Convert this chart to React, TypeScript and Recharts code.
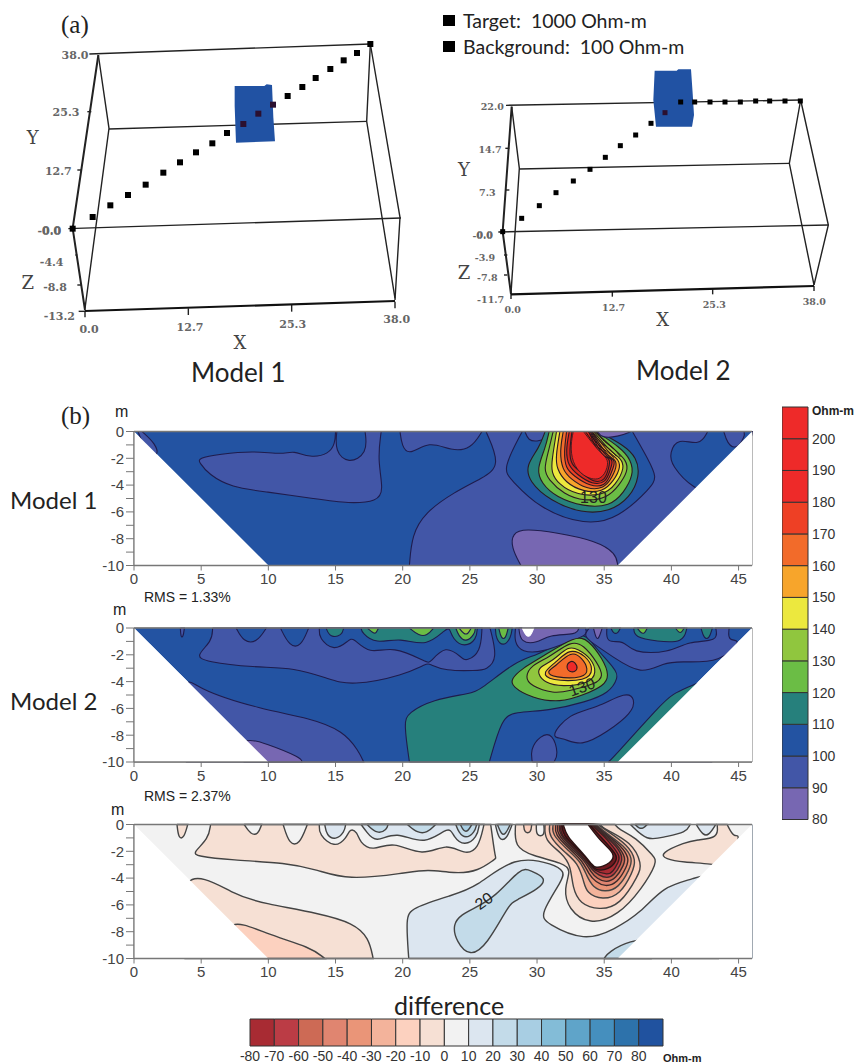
import React from "react";
import { ComposedChart, ReferenceArea, Scatter, ScatterChart, XAxis, YAxis } from "recharts";

type Pair = [number, number];

// colour steps
const BLUE = "#2353a2";
const PURPLE = "#4256a7";
const LAV = "#7767b2";
const TEAL = "#26807c";
const GREEN = "#6bbd45";
const LIME = "#90c63e";
const YELLOW = "#ece83e";
const AMBER = "#f7a52b";
const ORANGE = "#f26b2a";
const REDOR = "#ee4025";
const RED = "#ee2a29";

const ohmLevels = [80, 90, 100, 110, 120, 130, 140, 150, 160, 170, 180, 190, 200];
const ohmColors = [LAV, PURPLE, BLUE, TEAL, GREEN, LIME, YELLOW, AMBER, ORANGE, REDOR, RED, RED, RED];
const diffLevels = [-80, -70, -60, -50, -40, -30, -20, -10, 0, 10, 20, 30, 40, 50, 60, 70, 80];
const diffColors = ["#a82b33", "#bb3c45", "#cd6a55", "#e08570", "#ea9578", "#f3b39b", "#fcd1bf", "#f6e0d4", "#f2f2f2", "#dce6f0", "#c3dbe9", "#a8cee3", "#83bcd7", "#5fa4c9", "#458fbe", "#2d72ab", "#20529f"];

const distanceTicks = [0, 5, 10, 15, 20, 25, 30, 35, 40, 45];
const depthTicks = [0, -1, -2, -3, -4, -5, -6, -7, -8, -9, -10];

const section: Pair[] = [[0, 0], [46, 0], [36, -10], [10, -10]];
const blankLeft: Pair[] = [[0, 0], [10, -10], [0, -10]];
const blankRight: Pair[] = [[46, 0], [46, -10], [36, -10]];

// model 1 inversion
const m1Left: Pair[] = [[5, -2], [6.5, -1.7], [8.9, -1.5], [10.9, -1.67], [11.9, -1.5], [13.1, -1.87], [14.4, -1.6], [14.9, -0.87], [15, 0], [15.1, 0], [15.1, -1.37], [16, -2.2], [17.2, -1.5], [17.2, 0], [18.4, 0], [18.2, -2.1], [18.45, -4.2], [17.9, -5.1], [15.9, -5.3], [13.4, -5], [9.9, -4.5], [7.4, -4.1], [5.7, -3.2], [5, -2.4]];
const m1Corner: Pair[] = [[0.6, 0], [1.5, -0.9], [1.7, -1.7], [1, -1.6], [0.3, 0]];
const m1Top: Pair[] = [[19.8, 0], [20, -1], [20.6, -1.6], [22, -0.87], [23.6, -1.35], [25, -1.15], [25.9, 0]];
const m1Right: Pair[] = [[26.2, 0], [27, -2.36], [25.8, -3.48], [23.8, -4.6], [21.8, -6.1], [20.8, -7.8], [20.5, -10], [37, -10], [46, -1], [46, 0]];
const m1RightBlue: Pair[] = [[42.7, 0], [42, -0.9], [40.6, -0.65], [40, -1.6], [40.2, -2.6], [41.7, -4.1], [43.5, -4.2], [46, -1], [46, 0]];
const m1RightBlob: Pair[] = [[43.9, 0], [44.2, -0.8], [44.8, -1.2], [45.4, -0.4], [45.4, 0]];
const m1Deep: Pair[] = [[28.8, -10], [28.2, -8.7], [28.3, -7.7], [29.3, -7.35], [31.5, -7.6], [34.2, -8.2], [35.7, -9.1], [36, -10]];
const m1Ring: Pair[] = [[28.9, 0], [27.7, -2.6], [28.3, -3.7], [30.3, -5.6], [33.5, -6.75], [36, -6.25], [38.2, -4.35], [38.75, -3.35], [38.2, -2], [37.1, 0]];
const m1RingBlob: Pair[] = [[29.1, 0], [29.4, -0.6], [30, -0.7], [30.6, -0.5], [30.8, 0]];
const m1Teal: Pair[] = [[30.6, 0], [30.1, -1.26], [29.35, -2.5], [29.6, -3.75], [31.1, -5.1], [33.3, -5.95], [35.3, -5.85], [36.8, -4.85], [37.5, -3.35], [37.3, -2], [36.3, -1], [34.55, 0]];
const m1Green: Pair[] = [[30.9, 0], [30.6, -1.25], [30.1, -2.75], [30.45, -3.85], [31.55, -4.85], [33.45, -5.5], [35.3, -5.45], [36.4, -4.5], [37.05, -3.25], [36.9, -2.15], [36.05, -1.15], [34.4, 0]];
const m1Lime: Pair[] = [[31.2, 0], [30.85, -1.5], [30.6, -2.75], [30.95, -3.6], [32.05, -4.6], [33.55, -5.1], [35.15, -4.85], [36.05, -4], [36.65, -3], [36.55, -2.15], [35.65, -1.25], [34.3, 0]];
const m1Yellow: Pair[] = [[31.45, 0], [31.15, -2], [31.15, -3], [31.7, -3.9], [33.05, -4.65], [34.8, -4.65], [35.8, -3.9], [36.4, -2.75], [36.15, -2], [35.4, -1.4], [34.2, 0]];
const m1Amber: Pair[] = [[31.7, 0], [31.45, -1.75], [31.55, -2.75], [32.2, -3.75], [33.45, -4.4], [34.8, -4.4], [35.65, -3.65], [36.15, -2.65], [35.9, -2], [35.3, -1.5], [34.1, 0]];
const m1Orange: Pair[] = [[31.95, 0], [31.75, -1.5], [31.95, -2.75], [32.55, -3.5], [33.7, -4.2], [34.9, -4.15], [35.55, -3.4], [35.9, -2.5], [35.65, -2], [35.15, -1.65], [34.05, 0]];
const m1RedOrange: Pair[] = [[32.2, 0], [32.05, -1.5], [32.2, -2.65], [32.8, -3.3], [33.95, -4], [35, -3.95], [35.45, -3.2], [35.75, -2.4], [35.55, -2], [35.05, -1.75], [34, 0]];
const m1Red1: Pair[] = [[32.4, 0], [32.2, -1.4], [32.4, -2.5], [33.05, -3.2], [34.1, -3.85], [35.05, -3.7], [35.4, -2.9], [35.6, -2.25], [35.3, -1.9], [34.85, -1.75], [33.95, 0]];
const m1Red2: Pair[] = [[32.6, 0], [32.45, -1.4], [32.6, -2.4], [33.3, -3.05], [34.2, -3.7], [35, -3.55], [35.3, -2.75], [35.4, -2.2], [35.1, -1.85], [34.65, -1.7], [33.85, 0]];
const m1Core: Pair[] = [[32.7, 0], [32.55, -1], [32.7, -2.25], [33.45, -3.25], [34.65, -3.55], [35.2, -2.65], [35.15, -2], [34.55, -1.4], [33.45, 0]];
const m1TopLav: Pair[] = [[34.5, 0], [34.9, -0.4], [36, -0.35], [37, 0]];
const m1Ridges: Pair[][] = [
  [[33.6, 0], [34.3, -1.05], [35.1, -1.6], [35.5, -2]],
  [[33.8, 0], [34.5, -1], [35.25, -1.5], [35.7, -1.95]],
  [[34.1, 0], [34.7, -0.85], [35.5, -1.35], [35.9, -1.85]],
  [[34.4, 0], [35, -0.8], [35.8, -1.3], [36.2, -1.9]],
];

// model 2 inversion
const m2Tip: Pair[] = [[3.45, 0], [3.5, -0.6], [3.65, -0.6], [3.75, 0]];
const m2Upper: Pair[] = [[5.85, 0], [5.7, -1], [4.85, -2], [5.7, -2.5], [8.9, -2.9], [11.9, -3.05], [14.4, -3.75], [16.4, -4.15], [19.85, -3.5], [21.6, -2.75], [22.1, -2.75], [23.3, -3.15], [25.3, -3.15], [26.2, -3], [26.9, -2.1], [26.5, 0]];
const m2Hole1: Pair[] = [[7.6, 0], [8.2, -0.9], [9.1, -0.95], [9.85, 0]];
const m2Hole2: Pair[] = [[10.9, 0], [11.6, -1.2], [12.4, -1.2], [13, 0]];
const m2Hole3: Pair[] = [[13.8, 0], [13.9, -0.77], [14.9, -1.55], [15.9, -1], [16.4, -0.85], [17.6, -1.8], [19.35, -1.5], [21.6, -2.45], [22.1, -2.45], [23.2, -1.5], [24.3, -2.15], [24.8, -2.35], [25.7, -1.65], [25.9, 0]];
const m2Teal1: Pair[] = [[14.3, 0], [14.65, -0.6], [15.4, -0.5], [15.6, 0]];
const m2Teal2: Pair[] = [[16.9, 0], [17.1, -0.4], [18.1, -1.05], [19.85, -0.8], [21.7, -1.2], [23.1, -0.15], [23.5, -0.15], [23.8, -0.8], [24.6, -1.3], [25.4, -0.8], [25.55, 0]];
const m2Green1: Pair[] = [[17.35, 0], [17.8, -0.35], [18, -0.35], [18.2, 0]];
const m2Green2: Pair[] = [[20.5, 0], [21.2, -0.5], [21.8, -0.5], [22.3, 0]];
const m2Green3: Pair[] = [[23.95, 0], [24.2, -0.55], [24.7, -0.95], [25.3, -0.45], [25.4, 0]];
const m2Lime: Pair[] = [[24.2, 0], [24.55, -0.4], [24.85, -0.4], [25.1, 0]];
const m2TealBig: Pair[] = [[20.5, -10], [20.2, -7.35], [20.6, -6.35], [22.35, -5.4], [24.8, -4.9], [26, -4.4], [28.3, -2.65], [30, -2], [32, -1], [33.5, -0.55], [34.35, -1.5], [35.7, -3], [35.9, -3.75], [35.2, -4.8], [33.5, -5.5], [31, -6.1], [28.5, -6.35], [27.4, -7.1], [26.45, -10]];
const m2Sliver: Pair[] = [[35.3, -10], [35.95, -9.35], [38.9, -6.1], [40.1, -5], [41.55, -4.4], [43, -4.4], [43, -10]];
const m2Lobe1: Pair[] = [[3.9, -4.25], [5, -4.65], [9.4, -6], [12.9, -6.75], [15.4, -7.75], [16.6, -9.1], [17.1, -10], [3.9, -10]];
const m2Lobe2: Pair[] = [[8.2, -8.4], [9.9, -8.7], [12.15, -9.6], [12.5, -10], [8.2, -10]];
const m2BlobA: Pair[] = [[31.25, -8], [32.5, -6.5], [34.5, -5.9], [36.45, -4.95], [37.15, -5.4], [36.85, -6.4], [35.2, -7.7], [33.35, -8.65], [32, -8.2]];
const m2BlobB: Pair[] = [[29.65, -10], [29.6, -9.1], [30.25, -8.15], [31.1, -8.05], [31.5, -9.35], [31.25, -10]];
const m2Teal3: Pair[] = [[26.9, 0], [27, -0.77], [27.5, -1.25], [28, -0.7], [28.15, 0]];
const m2Green4: Pair[] = [[27.15, 0], [27.35, -0.7], [27.65, -0.7], [27.85, 0]];
const m2Crest: Pair[] = [[28.4, 0], [28.4, -1], [29, -1.7], [30.5, -1.7], [32.5, -0.95], [33.6, -0.5], [33.6, 0]];
const m2CrestLav: Pair[] = [[28.65, 0], [28.9, -0.95], [30, -1.05], [31, -0.55], [32.75, -0.45], [33.1, 0]];
const m2CrestWhite: Pair[] = [[28.9, 0], [29.2, -0.55], [29.5, -0.55], [29.75, 0]];
const m2Shoulder: Pair[] = [[33.9, 0], [33.6, -0.55], [34.2, -1.15], [35.7, -2.15], [37.7, -3.25], [39.4, -2.65], [40.9, -2.5], [43.5, -2.4], [45, -1], [44.3, -0.9], [44.3, 0], [43.3, 0], [43.2, -0.9], [41.3, -1.05], [39.7, -1.75], [37.3, -1.75], [36.45, -1], [35.3, -1], [35.2, 0]];
const m2ShoulderLav: Pair[] = [[34.2, 0], [34.4, -0.7], [34.6, -0.7], [34.85, 0]];
const m2TopTeal1: Pair[] = [[35.5, 0], [35.7, -0.35], [36, -0.35], [36.2, 0]];
const m2TopTeal2: Pair[] = [[37.2, 0], [37.45, -0.65], [38.95, -0.95], [40.7, -0.95], [41.15, 0]];
const m2TopTeal3: Pair[] = [[42.2, 0], [42.45, -0.7], [42.8, -0.7], [43.05, 0]];
const m2TopGreen1: Pair[] = [[37.45, 0], [37.75, -0.35], [38, -0.35], [38.2, 0]];
const m2TopGreen2: Pair[] = [[40.3, 0], [40.55, -0.3], [40.75, -0.3], [40.95, 0]];
const m2PlumeGreen: Pair[] = [[28.2, -3.8], [28.35, -4.4], [29.7, -5.15], [31.7, -5.45], [33.45, -4.95], [34.8, -4.3], [35.25, -3.5], [34.8, -2.3], [33.8, -1.05], [32.7, -0.8], [30.5, -2.1], [29, -3]];
const m2PlumeLime: Pair[] = [[29.25, -3.65], [29.7, -4.3], [31.2, -4.8], [32.45, -4.65], [34.2, -4.15], [34.8, -3.55], [34.4, -2.55], [33.45, -1.4], [32.45, -1.15], [30.95, -2.15], [29.7, -2.8]];
const m2PlumeYellow: Pair[] = [[30.15, -3.4], [30.7, -4.05], [31.95, -4.3], [33.7, -4.05], [34.3, -3.3], [33.95, -2.3], [33.05, -1.65], [32.3, -1.5], [31.2, -2.4], [30.3, -2.9]];
const m2PlumeAmber: Pair[] = [[30.6, -3.3], [31.2, -3.85], [33.45, -3.85], [34.05, -3.05], [33.55, -2.15], [32.45, -1.7], [31.45, -2.55]];
const m2PlumeOrange: Pair[] = [[30.85, -3.25], [31.45, -3.65], [33.3, -3.65], [33.7, -3.05], [33.3, -2.3], [32.5, -1.9], [31.45, -2.8]];
const m2PlumeRed: Pair[] = [[32.2, -2.9], [32.55, -3.3], [33, -3.05], [32.8, -2.6], [32.5, -2.5]];

// difference section
const dUpper: Pair[] = [[5.7, 0], [5.45, -1.05], [4.6, -2], [5, -2.35], [7.45, -2.65], [11.15, -2.9], [13.65, -3.4], [16.1, -4], [19.85, -3.65], [21.85, -3.4], [23.8, -3.6], [25.55, -3.4], [26.8, -2.55], [26.85, -2.3], [26.55, 0]];
const dTip: Pair[] = [[3.2, 0], [3.35, -0.9], [3.7, -0.9], [4, 0]];
const dGap1: Pair[] = [[8.2, 0], [8.7, -0.65], [9.2, -0.65], [9.5, 0]];
const dGap2: Pair[] = [[11.1, 0], [11.6, -1.3], [12.3, -1.3], [12.9, 0]];
const dGap3: Pair[] = [[13.8, 0], [13.9, -0.75], [14.9, -1.55], [15.75, -1], [16.1, -0.4], [16.6, -0.65], [16.9, -1.3], [17.85, -1.85], [19.35, -1.4], [21.45, -2.2], [23.2, -1.55], [24.55, -2.1], [25.55, -1.65], [26.05, 0]];
const dPale1: Pair[] = [[14.2, 0], [14.4, -0.75], [15, -1.05], [15.6, -0.55], [15.75, 0]];
const dPale2: Pair[] = [[16.9, 0], [17.35, -0.55], [18.1, -1.2], [19.6, -0.65], [21.6, -1.35], [23.3, -0.3], [23.8, -0.9], [24.6, -1.45], [25.45, -0.9], [25.7, 0]];
const dSky1: Pair[] = [[17.35, 0], [18.1, -0.6], [18.75, -0.35], [18.9, 0]];
const dSky2: Pair[] = [[20.35, 0], [21.1, -0.55], [21.8, -0.55], [22.45, 0]];
const dSky3: Pair[] = [[23.95, 0], [24.2, -0.55], [24.7, -0.95], [25.3, -0.55], [25.5, 0]];
const dSky4: Pair[] = [[24.3, 0], [24.55, -0.45], [24.85, -0.45], [25.15, 0]];
const dLower: Pair[] = [[3.8, -3.9], [7.45, -5.25], [9.9, -5.9], [13.65, -6.65], [16.1, -7.4], [17.35, -8.5], [17.8, -10], [3.8, -10]];
const dLower2: Pair[] = [[7.2, -7.35], [9.9, -8.2], [12.9, -9.15], [14.2, -10], [7.2, -10]];
const dBlue: Pair[] = [[20.45, -10], [20.35, -7.25], [20.95, -6.25], [23.55, -5.3], [25.55, -4.55], [28.3, -2.65], [31, -3], [31.85, -3.55], [31.75, -4.3], [30.5, -6.5], [31, -7.4], [33.5, -8.45], [35.7, -7.75], [37.7, -6.5], [39.45, -4.8], [41.55, -4.2], [43.5, -4.2], [43.5, -10]];
const dBlue20: Pair[] = [[23.85, -7.5], [24.1, -8.7], [25.05, -9.6], [26.3, -8.75], [27.8, -6.25], [28.5, -5.65], [30, -4.8], [30.5, -4.05], [29.5, -3.5], [28.65, -3.5], [26.9, -5.3], [25.3, -6.25], [24.45, -6.75]];
const dCorner: Pair[] = [[35, -10], [35.45, -9.5], [36.95, -8.75], [38.5, -8.75], [38.5, -10]];
const dRightLobe: Pair[] = [[39.45, -2.1], [39.7, -2.55], [41, -2.8], [42.9, -2.9], [44.3, -2.9], [45, -0.9], [44.65, -0.9], [44.15, 0], [43.4, 0], [43.3, -0.9], [41.9, -1.15], [40.95, -1.4]];
const dTopA: Pair[] = [[36.95, 0], [38.2, -1.05], [39.45, -0.9], [40.95, -0.55], [41.4, 0]];
const dTopB: Pair[] = [[37.3, 0], [37.6, -0.25], [37.9, -0.25], [38.2, 0]];
const dTopC: Pair[] = [[41.85, 0], [42.35, -0.7], [42.8, -0.7], [43.3, 0]];
const dTopD: Pair[] = [[26.9, 0], [27.2, -1], [27.7, -1], [28.15, 0]];
const dTopE: Pair[] = [[27.05, 0], [27.35, -0.65], [27.65, -0.65], [28, 0]];
const dHalo: Pair[] = [[28.4, 0], [28.5, -1.55], [29.75, -2.3], [31.75, -2.9], [32.4, -3.5], [32.1, -4.8], [32.5, -6.25], [34, -7.25], [36, -6.6], [37.7, -4.8], [38.75, -3], [38.55, -2.3], [37.35, -1.05], [36.2, -0.4], [35.8, 0]];
const dBox1: Pair[] = [[29, 0], [29.1, -0.55], [29.5, -0.55], [29.6, 0]];
const dBox2: Pair[] = [[29.95, 0], [30, -0.75], [30.5, -0.75], [30.5, 0]];
const dRingB: Pair[] = [[30.6, 0], [30.7, -1.15], [31.8, -2.15], [32.45, -3.15], [32.7, -4.65], [33.3, -5.8], [34.65, -6.25], [36.15, -5.8], [37.4, -3.9], [37.65, -2.9], [36.9, -1.4], [35.15, -0.4], [34.7, 0]];
const dRingC: Pair[] = [[30.95, 0], [31, -0.9], [32.05, -2.05], [32.95, -2.9], [33.45, -4.15], [33.8, -5.05], [34.9, -5.5], [36.15, -5.05], [37, -3.65], [37.25, -2.65], [36.65, -1.55], [35.3, -0.55], [34.55, 0]];
const dRingD: Pair[] = [[31.2, 0], [31.25, -0.8], [32.3, -1.9], [33.2, -2.8], [33.7, -3.8], [34.2, -4.6], [35.05, -4.95], [36.05, -4.6], [36.8, -3.4], [37, -2.55], [36.4, -1.6], [35.15, -0.65], [34.4, 0]];
const dRingE: Pair[] = [[31.4, 0], [31.45, -0.8], [32.45, -1.85], [33.35, -2.75], [33.85, -3.65], [34.4, -4.25], [35.1, -4.55], [35.95, -4.25], [36.6, -3.2], [36.75, -2.5], [36.2, -1.6], [35.1, -0.7], [34.3, 0]];
const dRingF: Pair[] = [[31.55, 0], [31.6, -0.75], [32.6, -1.85], [33.5, -2.7], [34, -3.5], [34.5, -4], [35.15, -4.25], [35.85, -3.95], [36.4, -3.05], [36.5, -2.45], [36, -1.6], [35.05, -0.75], [34.2, 0]];
const dRingG: Pair[] = [[31.7, 0], [31.75, -0.75], [32.75, -1.85], [33.65, -2.75], [34.1, -3.35], [34.6, -3.75], [35.2, -3.95], [35.75, -3.7], [36.2, -2.95], [36.3, -2.4], [35.85, -1.6], [35, -0.8], [34.1, 0]];
const dRingH: Pair[] = [[31.8, 0], [31.85, -0.8], [32.9, -1.85], [33.8, -2.85], [34.3, -3.4], [35.2, -3.7], [35.65, -3.45], [36, -2.85], [36.1, -2.35], [35.6, -1.6], [34.95, -0.85], [34, 0]];
const dRingI: Pair[] = [[31.85, 0], [32.05, -0.85], [33.05, -1.85], [33.95, -2.85], [34.35, -3.35], [35.3, -3.3], [35.85, -2.7], [35.85, -2.25], [35.3, -1.55], [34.85, -1.05], [33.9, 0]];
const dHole: Pair[] = [[31.95, 0], [32.3, -0.9], [33.2, -1.9], [34.05, -2.9], [34.4, -3.2], [35.4, -2.85], [35.65, -2.15], [34.8, -1.3], [33.8, 0]];

// survey layouts, in picture-plane units of each perspective drawing
const s1Electrodes: Pair[] = [[278, 651], [331, 616], [384, 585], [437, 554], [490, 518], [540, 487], [588, 457], [637, 430], [681, 399], [863, 288], [907, 261], [947, 234], [991, 207], [1031, 181], [1071, 159], [1111, 132], [218, 686]];
const s1OnTarget: Pair[] = [[730, 372], [775, 341], [819, 314]];
const s1Target: Pair[] = [[704, 258], [793, 258], [800, 253], [816, 255], [820, 352], [825, 424], [708, 428], [704, 318]];
const s1Wires: Pair[][] = [
  [[268, 162], [1111, 132]],
  [[295, 165], [218, 685], [255, 930]],
  [[295, 165], [327, 385], [255, 925]],
  [[327, 387], [1100, 364]],
  [[1111, 132], [1100, 364], [1185, 895]],
  [[1111, 132], [1200, 652], [1185, 900]],
  [[205, 686], [1203, 654]],
  [[565, 925], [565, 945]],
  [[875, 915], [875, 935]],
  [[1185, 905], [1185, 925]],
  [[255, 932], [255, 952]],
  [[262, 335], [274, 335]],
  [[232, 510], [244, 510]],
  [[232, 765], [226, 765]],
  [[232, 855], [244, 855]],
  [[236, 934], [255, 934]],
];
const s1Base: Pair[] = [[255, 933], [1185, 903]];
const s1Labels = [
  { x: 225, y: 166, label: "38.0" }, { x: 198, y: 338, label: "25.3" }, { x: 175, y: 515, label: "12.7" },
  { x: 148, y: 695, label: "-0.0" }, { x: 155, y: 690, label: "0.0" }, { x: 155, y: 787, label: "-4.4" }, { x: 165, y: 863, label: "-8.8" },
  { x: 178, y: 950, label: "-13.2" }, { x: 267, y: 988, label: "0.0" }, { x: 570, y: 982, label: "12.7" },
  { x: 878, y: 972, label: "25.3" }, { x: 1190, y: 958, label: "38.0" },
];
const s1Letters = [{ x: 98, y: 412, label: "Y" }, { x: 83, y: 847, label: "Z" }, { x: 720, y: 1028, label: "X" }];

const s2Electrodes: Pair[] = [[275, 655], [328, 617], [378, 578], [430, 543], [480, 508], [526, 472], [571, 437], [617, 405], [663, 370], [752, 306], [794, 306], [840, 306], [885, 306], [931, 306], [977, 303], [1019, 303], [1065, 303], [1111, 303], [218, 695]];
const s2OnTarget: Pair[] = [[705, 338]];
const s2Target: Pair[] = [[674, 212], [740, 212], [745, 208], [783, 208], [788, 280], [792, 345], [786, 380], [678, 380], [674, 340], [670, 300]];
const s2Wires: Pair[][] = [
  [[228, 316], [1112, 300]],
  [[245, 320], [218, 695], [243, 882]],
  [[245, 320], [268, 505], [243, 880]],
  [[268, 507], [1078, 490]],
  [[1112, 300], [1078, 490], [1152, 855]],
  [[1112, 300], [1195, 675], [1152, 855]],
  [[205, 696], [1195, 675]],
  [[547, 875], [547, 890]],
  [[848, 868], [848, 883]],
  [[1152, 858], [1152, 873]],
  [[243, 882], [243, 897]],
  [[226, 445], [238, 445]],
  [[226, 570], [238, 570]],
  [[222, 765], [232, 765]],
  [[222, 825], [232, 825]],
];
const s2Base: Pair[] = [[243, 883], [1152, 858]];
const s2Labels = [
  { x: 187, y: 320, label: "22.0" }, { x: 180, y: 448, label: "14.7" }, { x: 172, y: 578, label: "7.3" },
  { x: 158, y: 706, label: "-0.0" }, { x: 164, y: 702, label: "0.0" }, { x: 165, y: 772, label: "-3.9" }, { x: 172, y: 832, label: "-7.8" },
  { x: 182, y: 897, label: "-11.7" }, { x: 248, y: 927, label: "0.0" }, { x: 551, y: 922, label: "12.7" },
  { x: 853, y: 913, label: "25.3" }, { x: 1153, y: 903, label: "38.0" },
];
const s2Letters = [{ x: 102, y: 508, label: "Y" }, { x: 102, y: 818, label: "Z" }, { x: 698, y: 958, label: "X" }];

const toPoints = (pts: Pair[], hold = false) =>
  pts.flatMap(([x, y]) => {
    const p = { x, y };
    return hold && (y === 0 || y === -10) ? [p, p, p] : [p];
  });

const clamp = (v: number, lo: number, hi: number) => Math.min(hi, Math.max(lo, v));

const meetPoints = (pts: { x: number; y: number }[]) =>
  pts.map((p, i) => {
    if (p.y === 0 || p.y === -10) return p;
    const a = pts[(i - 1 + pts.length) % pts.length];
    const b = pts[(i + 1) % pts.length];
    return {
      x: clamp(p.x - (a.x + b.x - 2 * p.x) / 6, 0, 46),
      y: clamp(p.y - (a.y + b.y - 2 * p.y) / 6, -10, 0),
    };
  });

const noMark = () => <g />;

function band(key: string, pts: Pair[], fill: string, stroke: string, width = 1.1) {
  return (
    <Scatter key={key} data={meetPoints(toPoints(pts, true))} shape={noMark} isAnimationActive={false} lineJointType="basisClosed"
      line={{ fill, stroke, strokeWidth: width, fillOpacity: 1 }} />
  );
}

function flat(key: string, pts: Pair[], fill: string) {
  return (
    <Scatter key={key} data={toPoints(pts)} shape={noMark} isAnimationActive={false} lineJointType="linearClosed"
      line={{ fill, stroke: "none" }} />
  );
}

function wire(key: string, pts: Pair[], stroke: string, width: number, joint = "linear") {
  return (
    <Scatter key={key} data={toPoints(pts)} shape={noMark} isAnimationActive={false} lineJointType={joint as any}
      line={{ stroke, strokeWidth: width, fill: "none" }} />
  );
}

function Section({ top, plotTop, bands, base, notes, axisColor = "#777" }: any) {
  const height = plotTop + 134 + 30 - top;
  return (
    <div style={{ position: "absolute", left: 0, top }}>
      <ScatterChart width={858} height={height} margin={{ top: plotTop - top - 10, right: 98, bottom: 0, left: 94 }}>
        <XAxis xAxisId={0} dataKey="x" type="number" domain={[0, 46]} ticks={distanceTicks} interval={0} height={30} tickSize={5} tickMargin={3} stroke="#777"
          tick={{ fill: "#444", fontSize: 15, fontFamily: "Liberation Sans" }} />
        <XAxis xAxisId="top" orientation="top" type="number" domain={[0, 46]} ticks={distanceTicks} interval={0} height={10} tickSize={8} tick={false} stroke="#777" />
        <YAxis yAxisId={0} dataKey="y" type="number" domain={[-10, 0]} ticks={depthTicks} interval={0} width={40} tickSize={8} tickMargin={2} stroke="#777"
          tickFormatter={(v: number) => (v % 2 ? "" : String(v))} tick={{ fill: "#444", fontSize: 15, fontFamily: "Liberation Sans" }} />
        <YAxis yAxisId="right" orientation="right" type="number" domain={[-10, 0]} ticks={[0, -5, -10]} interval={0} width={8} tickSize={8} tick={false} stroke={axisColor} />
        {flat("section", section, base)}
        {bands}
        {flat("blankLeft", blankLeft, "#fff")}
        {flat("blankRight", blankRight, "#fff")}
        {wire("frameTop", [[0, 0], [46, 0]], "#777", 1.4)}
        {wire("frameBottom", [[0, -10], [46, -10]], "#777", 1.4)}
        {wire("frameLeft", [[0, 0], [0, -10]], "#777", 1.2)}
        {notes.map((n: any) => (
          <Scatter key={n.label} data={[n]} isAnimationActive={false}
            shape={(p: any) => (
              <text x={p.cx} y={p.cy} textAnchor="middle" dominantBaseline="central" fontSize={16} fill="#222" fontFamily="Liberation Sans"
                transform={`rotate(${n.angle} ${p.cx} ${p.cy})`}>{n.label}</text>
            )} />
        ))}
      </ScatterChart>
    </div>
  );
}

function Survey({ left, width, domainX, target, wires, baseLine, electrodes, onTarget, labels, letters, markSize, labelSize }: any) {
  const square = (fill: string) => (p: any) => <rect x={p.cx - markSize / 2} y={p.cy - markSize / 2} width={markSize} height={markSize} fill={fill} />;
  return (
    <div style={{ position: "absolute", left, top: 0 }}>
      <ScatterChart width={width} height={390} margin={{ top: 0, right: 0, bottom: 0, left: 0 }}>
        <XAxis dataKey="x" type="number" domain={[0, domainX]} hide />
        <YAxis dataKey="y" type="number" domain={[0, 1170]} reversed hide />
        {wires.map((w: Pair[], i: number) => wire(`w${i}`, w, "#222", i === 1 ? 2 : 1.4))}
        {wire("base", baseLine, "#111", 2.2)}
        {flat("target", target, "#2152a3")}
        <Scatter data={toPoints(electrodes)} shape={square("#000")} isAnimationActive={false} />
        <Scatter data={toPoints(onTarget)} shape={square("#2b1030")} isAnimationActive={false} />
        <Scatter data={labels} isAnimationActive={false}
          shape={(p: any) => (
            <text x={p.cx} y={p.cy} textAnchor="middle" dominantBaseline="central" fontSize={labelSize} fontWeight={700} fill="#666" fontFamily="DejaVu Serif">{p.payload.label}</text>
          )} />
        <Scatter data={letters} isAnimationActive={false}
          shape={(p: any) => (
            <text x={p.cx} y={p.cy} textAnchor="middle" dominantBaseline="central" fontSize={18} fill="#444" fontFamily="DejaVu Serif">{p.payload.label}</text>
          )} />
      </ScatterChart>
    </div>
  );
}

function OhmBar() {
  return (
    <div style={{ position: "absolute", left: 782, top: 400 }}>
      <ComposedChart width={76} height={430} data={[{ x: 0, y: 80 }]} margin={{ top: 7, right: 0, bottom: 10.5, left: 0 }}>
        <XAxis type="number" dataKey="x" domain={[0, 1]} hide />
        <YAxis type="number" dataKey="y" orientation="right" domain={[80, 210]} ticks={ohmLevels} interval={0} width={50} tickSize={0} tickMargin={4} axisLine={false}
          tick={{ fill: "#333", fontSize: 14, fontFamily: "Liberation Sans" }} />
        {ohmLevels.map((lo, i) => (
          <ReferenceArea key={lo} x1={0} x2={1} y1={lo} y2={lo + 10} fill={ohmColors[i]} fillOpacity={1} stroke="#333" strokeWidth={1} />
        ))}
      </ComposedChart>
    </div>
  );
}

function DiffBar() {
  return (
    <div style={{ position: "absolute", left: 0, top: 1010 }}>
      <ComposedChart width={858} height={53} data={[{ x: 0, y: 0 }]} margin={{ top: 9, right: 195, bottom: 0, left: 250 }}>
        <XAxis type="number" dataKey="x" domain={[-80, 90]} ticks={diffLevels} interval={0} height={17} tickSize={0} tickMargin={5} axisLine={false}
          tick={{ fill: "#333", fontSize: 14, fontFamily: "Liberation Sans" }} />
        <YAxis type="number" dataKey="y" domain={[0, 1]} hide />
        {diffLevels.map((lo, i) => (
          <ReferenceArea key={lo} x1={lo} x2={lo + 10} y1={0} y2={1} fill={diffColors[i]} fillOpacity={1} stroke="#333" strokeWidth={1} />
        ))}
      </ComposedChart>
    </div>
  );
}

const LATO = "Lato, 'Noto Sans', sans-serif";
const SANS = "'Liberation Sans', sans-serif";
const SERIF = "'Liberation Serif', serif";

function Caption({ x, y, size, font = LATO, weight = 400, color = "#222", children }: any) {
  return (
    <span style={{ position: "absolute", left: x, top: y, transform: "translateY(-50%)", fontSize: size, fontFamily: font, fontWeight: weight, color, whiteSpace: "pre", lineHeight: 1 }}>
      {children}
    </span>
  );
}

const NAVY = "#1f1c4d";
const DARK = "#2a1a22";
const GREY = "#444";

const model1Bands = [
  band("left", m1Left, PURPLE, NAVY), band("corner", m1Corner, PURPLE, NAVY), band("top", m1Top, PURPLE, NAVY),
  band("right", m1Right, PURPLE, NAVY), band("rblue", m1RightBlue, BLUE, NAVY), band("rblob", m1RightBlob, PURPLE, NAVY),
  band("deep", m1Deep, LAV, NAVY), band("ring", m1Ring, BLUE, NAVY), band("rb", m1RingBlob, PURPLE, NAVY),
  band("teal", m1Teal, TEAL, DARK), band("green", m1Green, GREEN, DARK), band("lime", m1Lime, LIME, DARK),
  band("yellow", m1Yellow, YELLOW, DARK), band("amber", m1Amber, AMBER, DARK), band("orange", m1Orange, ORANGE, DARK),
  band("redor", m1RedOrange, REDOR, DARK), band("red1", m1Red1, "#d8281f", DARK), band("red2", m1Red2, "#c9241f", DARK),
  ...m1Ridges.map((r, i) => wire(`ridge${i}`, r, "#2a1210", 1, "basis")),
  band("core", m1Core, RED, DARK, 0.8), band("toplav", m1TopLav, LAV, NAVY),
];

const model2Bands = [
  band("tip", m2Tip, PURPLE, NAVY), band("upper", m2Upper, PURPLE, NAVY),
  band("h1", m2Hole1, BLUE, NAVY), band("h2", m2Hole2, BLUE, NAVY), band("h3", m2Hole3, BLUE, NAVY),
  band("t1", m2Teal1, TEAL, NAVY), band("t2", m2Teal2, TEAL, NAVY), band("g1", m2Green1, GREEN, NAVY),
  band("g2", m2Green2, GREEN, NAVY), band("g3", m2Green3, GREEN, NAVY), band("l1", m2Lime, LIME, NAVY),
  band("lobe1", m2Lobe1, PURPLE, NAVY), band("lobe2", m2Lobe2, LAV, NAVY), band("big", m2TealBig, TEAL, NAVY),
  band("sliver", m2Sliver, TEAL, NAVY), band("blobA", m2BlobA, PURPLE, NAVY), band("blobB", m2BlobB, PURPLE, NAVY),
  band("t3", m2Teal3, TEAL, NAVY), band("g4", m2Green4, GREEN, NAVY),
  band("crest", m2Crest, PURPLE, NAVY), band("crestlav", m2CrestLav, LAV, NAVY), band("crestw", m2CrestWhite, "#fff", "#fff"),
  band("sh", m2Shoulder, PURPLE, NAVY), band("shl", m2ShoulderLav, LAV, NAVY),
  band("tt1", m2TopTeal1, TEAL, NAVY), band("tt2", m2TopTeal2, TEAL, NAVY), band("tt3", m2TopTeal3, TEAL, NAVY),
  band("tg1", m2TopGreen1, GREEN, NAVY), band("tg2", m2TopGreen2, GREEN, NAVY),
  band("pg", m2PlumeGreen, GREEN, DARK), band("pl", m2PlumeLime, LIME, DARK), band("py", m2PlumeYellow, YELLOW, DARK),
  band("pa", m2PlumeAmber, AMBER, DARK), band("po", m2PlumeOrange, ORANGE, DARK), band("pr", m2PlumeRed, RED, DARK),
];

const RING = 1.4;
const diffBands = [
  band("tip", dTip, diffColors[7], GREY, RING), band("upper", dUpper, diffColors[7], GREY, RING),
  band("gap1", dGap1, diffColors[8], GREY, RING), band("gap2", dGap2, diffColors[8], GREY, RING), band("gap3", dGap3, diffColors[8], GREY, RING),
  band("p1", dPale1, diffColors[9], GREY, RING), band("p2", dPale2, diffColors[9], GREY, RING),
  band("s1", dSky1, diffColors[10], GREY, RING), band("s2", dSky2, diffColors[10], GREY, RING), band("s3", dSky3, diffColors[10], GREY, RING), band("s4", dSky4, diffColors[11], GREY, RING),
  band("lower", dLower, diffColors[7], GREY, RING), band("lower2", dLower2, diffColors[6], GREY, RING),
  band("blue", dBlue, diffColors[9], GREY, RING), band("blue20", dBlue20, diffColors[10], GREY, RING), band("corner", dCorner, diffColors[10], GREY, RING),
  band("rl", dRightLobe, diffColors[7], GREY, RING), band("ta", dTopA, diffColors[9], GREY, RING), band("tb", dTopB, diffColors[10], GREY, RING),
  band("tc", dTopC, diffColors[9], GREY, RING), band("td", dTopD, diffColors[9], GREY, RING), band("te", dTopE, diffColors[10], GREY, RING),
  band("halo", dHalo, diffColors[7], GREY, RING), band("box1", dBox1, diffColors[6], GREY, RING), band("box2", dBox2, diffColors[8], GREY, RING),
  band("rb", dRingB, diffColors[6], GREY, RING), band("rc", dRingC, diffColors[5], GREY, RING), band("rd", dRingD, diffColors[4], GREY, RING),
  band("re", dRingE, diffColors[3], "#3a2a2a", RING), band("rf", dRingF, diffColors[2], "#3a2a2a", RING), band("rg", dRingG, diffColors[1], "#3a2a2a", RING),
  band("rh", dRingH, diffColors[0], "#3a2020", RING), band("ri", dRingI, "#6e1a20", "#2a1414", RING), band("hole", dHole, "#fff", "#2a1414", RING),
];

export default function App() {
  return (
    <div style={{ position: "absolute", left: 0, top: 0, width: 858, height: 1063, overflow: "hidden", background: "#fff" }}>
      <Survey left={0} width={430} domainX={1290} target={s1Target} wires={s1Wires} baseLine={s1Base} electrodes={s1Electrodes} onTarget={s1OnTarget} labels={s1Labels} letters={s1Letters} markSize={6} labelSize={11} />
      <Survey left={430} width={428} domainX={1284} target={s2Target} wires={s2Wires} baseLine={s2Base} electrodes={s2Electrodes} onTarget={s2OnTarget} labels={s2Labels} letters={s2Letters} markSize={5} labelSize={9.5} />

      <Section top={400} plotTop={431.5} base={BLUE} bands={model1Bands} notes={[{ x: 34.2, y: -4.9, label: "130", angle: 0 }]} />
      <Section top={598} plotTop={628} base={BLUE} bands={model2Bands} notes={[{ x: 33.35, y: -4.4, label: "130", angle: -20 }]} />
      <Section top={796} plotTop={824.5} base="#f2f2f2" bands={diffBands} notes={[{ x: 26.05, y: -5.7, label: "20", angle: -35 }]} axisColor="#456" />

      <OhmBar />
      <DiffBar />

      <Caption x={61} y={24} size={25} font={SERIF}>(a)</Caption>
      <Caption x={61} y={415} size={25} font={SERIF}>(b)</Caption>
      <Caption x={191} y={372} size={26}>Model 1</Caption>
      <Caption x={636} y={370} size={26}>Model 2</Caption>
      <Caption x={10} y={500} size={24}>Model 1</Caption>
      <Caption x={10} y={701} size={24}>Model 2</Caption>
      <Caption x={463} y={21} size={19.5}>Target:  1000 Ohm-m</Caption>
      <Caption x={463} y={47} size={19.5}>Background:  100 Ohm-m</Caption>
      <span style={{ position: "absolute", left: 443, top: 15, width: 12, height: 11, background: "#000" }} />
      <span style={{ position: "absolute", left: 443, top: 41, width: 12, height: 11, background: "#000" }} />
      <Caption x={115} y={412} size={16} font={SANS}>m</Caption>
      <Caption x={113} y={610} size={16} font={SANS}>m</Caption>
      <Caption x={111} y={810} size={16} font={SANS}>m</Caption>
      <Caption x={144} y={597} size={14} font={SANS}>RMS = 1.33%</Caption>
      <Caption x={144} y={796} size={14} font={SANS}>RMS = 2.37%</Caption>
      <Caption x={812} y={411} size={12} font={SANS} weight={700}>Ohm-m</Caption>
      <Caption x={663} y={1058} size={11} font={SANS} weight={700}>Ohm-m</Caption>
      <Caption x={394} y={1005} size={25}>difference</Caption>
    </div>
  );
}
